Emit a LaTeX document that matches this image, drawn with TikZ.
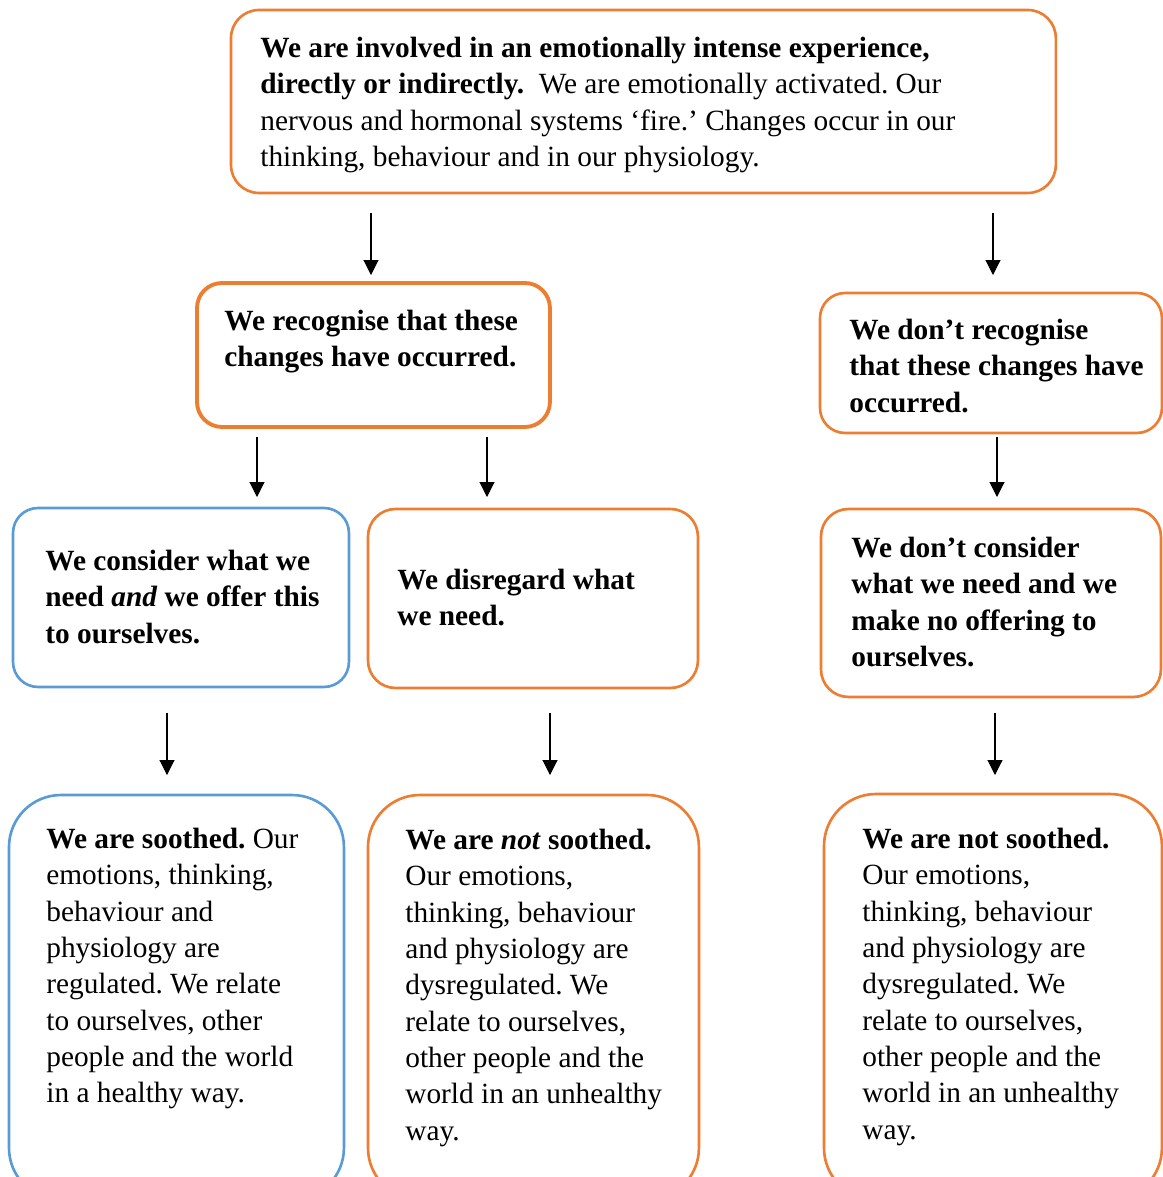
\documentclass[tikz,border=0pt]{standalone}
\usepackage{fontspec}
\setmainfont{Liberation Serif}
\usetikzlibrary{arrows.meta,positioning}

\definecolor{boxorange}{RGB}{237,125,49}
\definecolor{boxblue}{RGB}{91,155,213}
\newcommand{\boxfont}{\fontsize{16.7}{20.7}\selectfont}
\frenchspacing

\tikzset{
  box/.style={draw=boxorange, line width=1.5pt, rounded corners=#1,
    anchor=north west, inner sep=0pt, outer sep=0pt},
  bluebox/.style={box=#1, draw=boxblue},
  txt/.style={anchor=north west, inner sep=0pt, align=left, font=\boxfont},
  btxt/.style={txt, font=\boxfont\bfseries},
  arr/.style={line width=0.6pt, -{Triangle[width=0.3cm,length=0.3cm]}}
}

\begin{document}
\begin{tikzpicture}[x=0.02cm, y=-0.02cm]
  \clip (0,0) rectangle (1163,1177);

  % Boxes
  \node[box=0.56cm, minimum width=16.5cm, minimum height=3.66cm] (exper) at (231,10) {};
  \node[box=0.5cm, line width=2.2pt, minimum width=7.06cm, minimum height=2.88cm] (recog) at (197,283) {};
  \node[box=0.5cm, minimum width=6.84cm, minimum height=2.8cm] (norecog) at (820,293) {};
  \node[bluebox=0.5cm, minimum width=6.72cm, minimum height=3.58cm] (consider) at (13,508) {};
  \node[box=0.55cm, minimum width=6.6cm, minimum height=3.58cm] (disregard) at (368,509) {};
  \node[box=0.55cm, minimum width=6.8cm, minimum height=3.76cm] (noconsider) at (821,509) {};
  \node[bluebox=1.04cm, minimum width=6.7cm, minimum height=8.1cm] (soothed) at (9,795) {};
  \node[box=1.04cm, minimum width=6.62cm, minimum height=8.1cm] (notsoothed) at (368,795) {};
  \node[box=1.04cm, minimum width=6.76cm, minimum height=8.12cm] (notsoothedb) at (824,794) {};

  % Texts
  \node[txt, below right=0.43cm and 0.58cm of exper.north west] (expertxt)
    {\strut\textbf{We are involved in an emotionally intense experience,}\\
     \textbf{directly or indirectly.}\ \ We are emotionally activated. Our\\
     nervous and hormonal systems ‘fire.’ Changes occur in our\\
     thinking, behaviour and in our physiology.};
  \node[btxt, below right=0.43cm and 0.54cm of recog.north west] (recogtxt)
    {\strut We recognise that these\\ changes have occurred.};
  \node[btxt, below right=0.41cm and 0.58cm of norecog.north west] (norecogtxt)
    {\strut We don’t recognise\\ that these changes have\\ occurred.};
  \node[btxt, below right=0.73cm and 0.64cm of consider.north west] (considertxt)
    {\strut We consider what we\\ need \textit{and} we offer this\\ to ourselves.};
  \node[btxt, below right=1.09cm and 0.58cm of disregard.north west] (disregardtxt)
    {\strut We disregard what\\ we need.};
  \node[btxt, below right=0.45cm and 0.6cm of noconsider.north west] (noconsidertxt)
    {\strut We don’t consider\\ what we need and we\\ make no offering to\\ ourselves.};
  \node[txt, below right=0.55cm and 0.74cm of soothed.north west] (soothedtxt)
    {\strut\textbf{We are soothed.} Our\\ emotions, thinking,\\ behaviour and\\
     physiology are\\ regulated. We relate\\ to ourselves, other\\
     people and the world\\ in a healthy way.};
  \node[txt, below right=0.57cm and 0.74cm of notsoothed.north west] (notsoothedtxt)
    {\strut\textbf{We are \textit{not} soothed.}\\ Our emotions,\\ thinking, behaviour\\
     and physiology are\\ dysregulated. We\\ relate to ourselves,\\
     other people and the\\ world in an unhealthy\\ way.};
  \node[txt, below right=0.57cm and 0.76cm of notsoothedb.north west] (notsoothedbtxt)
    {\strut\textbf{We are not soothed.}\\ Our emotions,\\ thinking, behaviour\\
     and physiology are\\ dysregulated. We\\ relate to ourselves,\\
     other people and the\\ world in an unhealthy\\ way.};

  % Arrow columns
  \coordinate (c1) at (371,0);
  \coordinate (c2) at (993,0);
  \coordinate (c3) at (257,0);
  \coordinate (c4) at (487,0);
  \coordinate (c5) at (997,0);
  \coordinate (c6) at (167,0);
  \coordinate (c7) at (550,0);
  \coordinate (c8) at (995,0);

  % Arrows
  \draw[arr, shorten <=0.4cm, shorten >=0.16cm] (exper.south -| c1) -- (recog.north -| c1);
  \draw[arr, shorten <=0.4cm, shorten >=0.36cm] (exper.south -| c2) -- (norecog.north -| c2);
  \draw[arr, shorten <=0.2cm, shorten >=0.22cm] (recog.south -| c3) -- (consider.north -| c3);
  \draw[arr, shorten <=0.2cm, shorten >=0.24cm] (recog.south -| c4) -- (disregard.north -| c4);
  \draw[arr, shorten <=0.08cm, shorten >=0.24cm] (norecog.south -| c5) -- (noconsider.north -| c5);
  \draw[arr, shorten <=0.52cm, shorten >=0.4cm] (consider.south -| c6) -- (soothed.north -| c6);
  \draw[arr, shorten <=0.5cm, shorten >=0.4cm] (disregard.south -| c7) -- (notsoothed.north -| c7);
  \draw[arr, shorten <=0.32cm, shorten >=0.38cm] (noconsider.south -| c8) -- (notsoothedb.north -| c8);
\end{tikzpicture}
\end{document}
